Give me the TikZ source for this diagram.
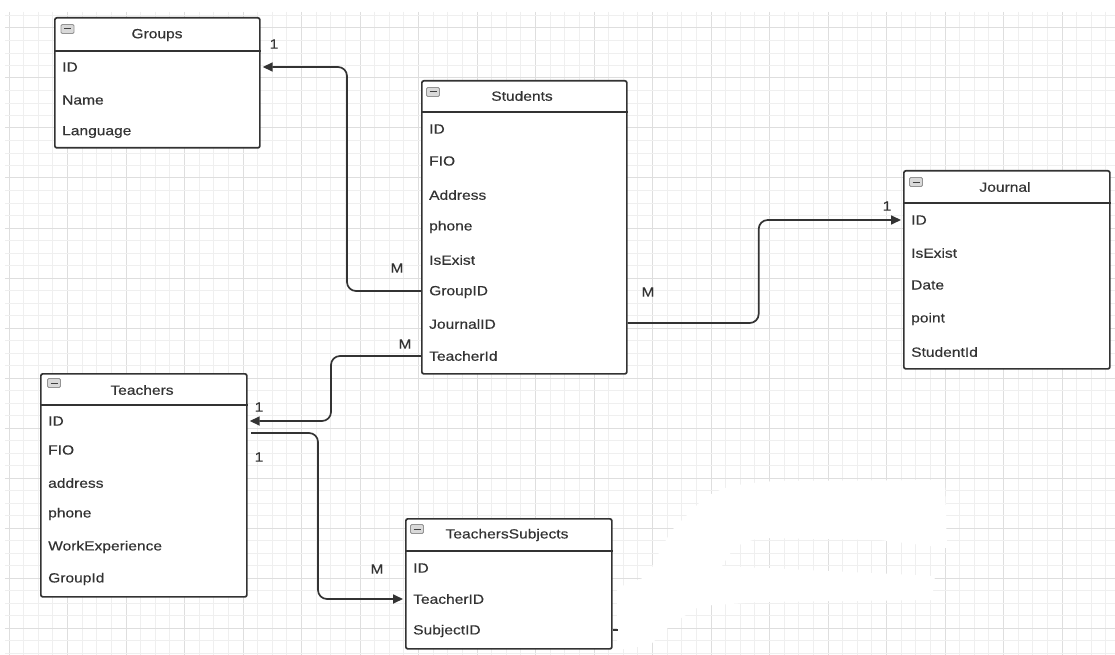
\documentclass[tikz,border=0pt]{standalone}
\usepackage{fontspec}
\setmainfont{Liberation Sans}[FakeStretch=1.17,FakeBold=0.35]
\usetikzlibrary{arrows.meta,calc}
\definecolor{ink}{HTML}{333333}
\definecolor{txt}{HTML}{333333}
\definecolor{gminor}{HTML}{EFEFEF}
\definecolor{gmajor}{HTML}{DEDEDE}
\begin{document}
\begin{tikzpicture}[x=1pt,y=-1pt,
  tbl/.style={draw=ink,line width=1.7pt,rounded corners=2pt,anchor=north west,inner sep=0pt,fill=white},
  hline/.style={draw=ink,line width=1.5pt},
  ttl/.style={font=\fontsize{13.3}{15}\selectfont,text=txt,inner sep=0pt},
  row/.style={font=\fontsize{13.3}{15}\selectfont,text=txt,anchor=west,inner sep=0pt},
  card/.style={font=\fontsize{13.3}{15}\selectfont,text=txt,inner sep=0pt},
  icon/.style={draw=gray!85,fill=gray!30,rounded corners=1.2pt,minimum width=13pt,minimum height=9pt,inner sep=0pt,line width=0.8pt,
    path picture={\draw[gray!50!black,line width=1pt] ([xshift=3pt]path picture bounding box.west) -- ([xshift=-3pt]path picture bounding box.east);}},
  conn/.style={draw=ink,line width=1.7pt,rounded corners=9pt},
  arr/.style={-{Triangle[length=10pt,width=9pt]},shorten >=2pt}
]
\useasboundingbox (0,0) rectangle (1115,655);
\fill[white] (0,0) rectangle (1115,655);
% grid
\foreach \i in {0,...,75}{
  \pgfmathtruncatemacro{\m}{mod(\i,4)}
  \ifnum\m=0 \draw[gmajor,line width=1pt] ({9+14.625*\i},12) -- ({9+14.625*\i},655);
  \else \draw[gminor,line width=0.8pt] ({9+14.625*\i},12) -- ({9+14.625*\i},655);\fi
}
\foreach \j in {0,...,51}{
  \pgfmathtruncatemacro{\m}{mod(\j,4)}
  \ifnum\m=1 \draw[gmajor,line width=1pt] (5,{15.5+12.5*\j}) -- (1115,{15.5+12.5*\j});
  \else \draw[gminor,line width=0.8pt] (5,{15.5+12.5*\j}) -- (1115,{15.5+12.5*\j});\fi
}
% erased patch
\fill[white] (705,497) .. controls (730,485) .. (775,481) -- (945,480) -- (947,548) -- (880,540) -- (760,538)
  .. controls (735,545) .. (722,566) -- (850,572) -- (935,576) -- (932,600) -- (760,602) -- (700,606)
  .. controls (670,625) .. (650,645) -- (617,650) -- (617,588) -- (648,576) .. controls (660,550) .. (672,530) -- cycle;

% Groups
\node[tbl,minimum width=205pt,minimum height=130pt] (grp) at (54,17) {};
\draw[hline] (grp.west |- 0,51) -- (grp.east |- 0,51);
\node[icon] (grpi) at (67.5,29) {};
\node[ttl] (grpt) at (157,35) {Groups};
\node[row] (gid) at (62,67) {ID};
\node[row] (gname) at (62,100) {Name};
\node[row] (glang) at (62,132) {Language};

% Students
\node[tbl,minimum width=205pt,minimum height=293pt] (stu) at (421,80) {};
\draw[hline] (stu.west |- 0,112) -- (stu.east |- 0,112);
\node[icon] (stui) at (433,92) {};
\node[ttl] (stut) at (522,96) {Students};
\node[row] (sid) at (429,129) {ID};
\node[row] (sfio) at (429,161) {FIO};
\node[row] (saddr) at (429,195) {Address};
\node[row] (sphone) at (429,227) {phone};
\node[row] (sisex) at (429,260) {IsExist};
\node[row] (sgid) at (429,292) {GroupID};
\node[row] (sjid) at (429,324) {JournalID};
\node[row] (stid) at (429,356) {TeacherId};

% Journal
\node[tbl,minimum width=206pt,minimum height=198pt] (jrn) at (903,170) {};
\draw[hline] (jrn.west |- 0,203) -- (jrn.east |- 0,203);
\node[icon] (jrni) at (916,182) {};
\node[ttl] (jrnt) at (1005,187) {Journal};
\node[row] (jid) at (911,220) {ID};
\node[row] (jisex) at (911,253) {IsExist};
\node[row] (jdate) at (911,285) {Date};
\node[row] (jpoint) at (911,319) {point};
\node[row] (jsid) at (911,352) {StudentId};

% Teachers
\node[tbl,minimum width=206pt,minimum height=223pt] (tch) at (40,373) {};
\draw[hline] (tch.west |- 0,405) -- (tch.east |- 0,405);
\node[icon] (tchi) at (54,383) {};
\node[ttl] (tcht) at (142,390) {Teachers};
\node[row] (tid) at (48,421) {ID};
\node[row] (tfio) at (48,450) {FIO};
\node[row] (taddr) at (48,483) {address};
\node[row] (tphone) at (48,514) {phone};
\node[row] (twork) at (48,547) {WorkExperience};
\node[row] (tgrp) at (48,579) {GroupId};

% TeachersSubjects
\node[tbl,minimum width=206pt,minimum height=130pt] (ts) at (405,518) {};
\draw[hline] (ts.west |- 0,551) -- (ts.east |- 0,551);
\node[icon] (tsi) at (417,529) {};
\node[ttl] (tst) at (507,535) {TeachersSubjects};
\node[row] (tsid) at (413,568) {ID};
\node[row] (tstid) at (413,599) {TeacherID};
\node[row] (tssid) at (413,631) {SubjectID};

% connectors
\draw[conn,arr] (stu.west |- 0,291) -- ++(-74,0) |- (grp.east |- gid);
\draw[conn,arr] (stu.east |- 0,323) -- ++(131,0) |- (jrn.west |- jid);
\draw[conn,arr] (stu.west |- 0,356) -- ++(-90,0) |- (tch.east |- tid);
\coordinate (tstart) at (251,433);
\draw[conn,arr] (tstart) -- ++(67,0) |- (ts.west |- tstid);
\coordinate (stubend) at (618,630);
\draw[conn] (ts.east |- stubend) -- (stubend);

% cardinalities
\node[card] (c1) at (274,44) {1};
\node[card] (c2) at (397,268) {M};
\node[card] (c3) at (648,292) {M};
\node[card] (c4) at (887,206) {1};
\node[card] (c5) at (405,344) {M};
\node[card] (c6) at (259,407) {1};
\node[card] (c7) at (259,457) {1};
\node[card] (c8) at (377,569) {M};
\end{tikzpicture}
\end{document}
